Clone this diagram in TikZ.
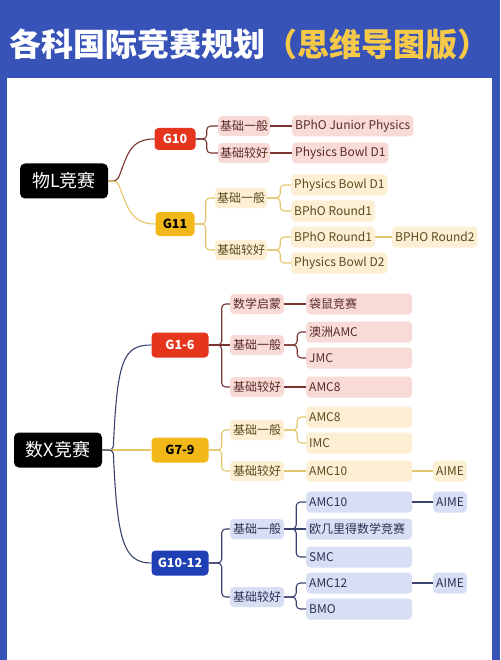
\documentclass[tikz,border=0pt]{standalone}
\usepackage{fontspec}
\setmainfont{Noto Sans CJK SC}
\newfontfamily\cjk{Noto Sans CJK SC}

\definecolor{bgblue}{HTML}{3753B8}
\definecolor{titleyellow}{HTML}{F7C948}
\definecolor{gred}{HTML}{E5351D}
\definecolor{gyellow}{HTML}{F2B81A}
\definecolor{gblue}{HTML}{1F3FB4}
\definecolor{pinkbox}{HTML}{F8DAD6}
\definecolor{yellowbox}{HTML}{FCEFD3}
\definecolor{bluebox}{HTML}{D8DFF5}
\definecolor{redtext}{HTML}{5B2B28}
\definecolor{yellowtext}{HTML}{5C4A1E}
\definecolor{bluetext}{HTML}{2B3152}
\definecolor{redline}{HTML}{7A3530}
\definecolor{yellowline}{HTML}{E3C56A}
\definecolor{blueline}{HTML}{3A4370}

\tikzset{
  rootbox/.style={fill=black, text=white, rounded corners=5pt, minimum width=88pt,
    minimum height=35pt, inner sep=2pt, font=\cjk\fontsize{18}{18}\selectfont},
  gradebox/.style={rounded corners=4pt, minimum height=24pt, inner sep=2pt,
    font=\cjk\bfseries\fontsize{12.5}{12.5}\selectfont},
  catbox/.style={rounded corners=4pt, minimum width=52pt, minimum height=20pt,
    inner sep=2pt, font=\cjk\fontsize{12}{12}\selectfont},
  leafbox/.style={anchor=west, rounded corners=4pt, minimum height=21pt,
    inner xsep=3pt, inner ysep=2pt, font=\cjk\fontsize{12}{12}\selectfont},
  wideleaf/.style={leafbox, text width=100pt, align=left},
  pinkish/.style={fill=pinkbox, text=redtext},
  yellowish/.style={fill=yellowbox, text=yellowtext},
  blueish/.style={fill=bluebox, text=bluetext},
  redlink/.style={draw=redline, line width=1.1pt, rounded corners=4pt},
  yellowlink/.style={draw=yellowline, line width=1.1pt, rounded corners=4pt},
  bluelink/.style={draw=blueline, line width=1.1pt, rounded corners=4pt}
}

\begin{document}
\begin{tikzpicture}[x=1pt,y=-1pt]
  \fill[bgblue] (0,0) rectangle (500,660);
  \fill[white] (7,78) rectangle (492,660);
  \useasboundingbox (0,0) rectangle (500,660);

  \node[anchor=west, inner sep=0, text=white, font=\cjk\bfseries\fontsize{32}{32}\selectfont]
    (title) at (9,44) {各科国际竞赛规划\textcolor{titleyellow}{（思维导图版）}};

  % physics
  \node[rootbox] (phys) at (64,181) {物L竞赛};
  \node[gradebox, fill=gred, text=white, minimum width=41pt, minimum height=22pt] (g10) at (175,139) {G10};
  \node[gradebox, fill=gyellow, text=black, minimum width=39pt] (g11) at (175,224) {G11};

  \node[catbox, pinkish] (pa) at (244,126) {基础一般};
  \node[catbox, pinkish] (pb) at (244,153) {基础较好};
  \node[leafbox, pinkish] (pa1) at (292,126) {BPhO Junior Physics};
  \node[leafbox, pinkish] (pb1) at (292,153) {Physics Bowl D1};

  \node[catbox, yellowish] (qa) at (241,198) {基础一般};
  \node[catbox, yellowish] (qb) at (241,250) {基础较好};
  \node[leafbox, yellowish] (qa1) at (291,185) {Physics Bowl D1};
  \node[leafbox, yellowish] (qa2) at (291,211) {BPhO Round1};
  \node[leafbox, yellowish] (qb1) at (291,237) {BPhO Round1};
  \node[leafbox, yellowish] (qb2) at (392,237) {BPHO Round2};
  \node[leafbox, yellowish] (qb3) at (291,263) {Physics Bowl D2};

  \draw[redlink] (phys.east) -- ++(9,0) .. controls +(10,-25) and +(-25,0) .. (g10.west);
  \draw[yellowlink] (phys.east) -- ++(9,0) .. controls +(10,25) and +(-25,0) .. (g11.west);
  \draw[redlink] (g10.east) -- ++(11,0) |- (pa.west);
  \draw[redlink] (g10.east) -- ++(11,0) |- (pb.west);
  \draw[redlink] (pa.east) -- (pa1.west);
  \draw[redlink] (pb.east) -- (pb1.west);
  \draw[yellowlink] (g11.east) -- ++(11,0) |- (qa.west);
  \draw[yellowlink] (g11.east) -- ++(11,0) |- (qb.west);
  \draw[yellowlink] (qa.east) -- ++(13,0) |- (qa1.west);
  \draw[yellowlink] (qa.east) -- ++(13,0) |- (qa2.west);
  \draw[yellowlink] (qb.east) -- ++(13,0) |- (qb1.west);
  \draw[yellowlink] (qb.east) -- ++(13,0) |- (qb3.west);
  \draw[yellowlink] (qb1.east) -- (qb2.west);

  % maths
  \node[rootbox] (math) at (58,450) {数X竞赛};
  \node[gradebox, fill=gred, text=white, minimum width=57pt, minimum height=25pt] (m16) at (180,345) {G1-6};
  \node[gradebox, fill=gyellow, text=black, minimum width=57pt, minimum height=25pt] (m79) at (180,450) {G7-9};
  \node[gradebox, fill=gblue, text=white, minimum width=57pt, minimum height=25pt] (m1012) at (180,563) {G10-12};

  \node[catbox, pinkish, minimum width=54pt] (ma) at (257,304) {数学启蒙};
  \node[catbox, pinkish, minimum width=54pt] (mb) at (257,345) {基础一般};
  \node[catbox, pinkish, minimum width=54pt] (mc) at (257,387) {基础较好};
  \node[wideleaf, pinkish] (ma1) at (306,304) {袋鼠竞赛};
  \node[wideleaf, pinkish] (mb1) at (306,332) {澳洲AMC};
  \node[wideleaf, pinkish] (mb2) at (306,358) {JMC};
  \node[wideleaf, pinkish] (mc1) at (306,387) {AMC8};

  \node[catbox, yellowish, minimum width=54pt] (na) at (257,430) {基础一般};
  \node[catbox, yellowish, minimum width=54pt] (nb) at (257,471) {基础较好};
  \node[wideleaf, yellowish] (na1) at (306,417) {AMC8};
  \node[wideleaf, yellowish] (na2) at (306,443) {IMC};
  \node[wideleaf, yellowish] (nb1) at (306,471) {AMC10};
  \node[leafbox, yellowish] (nb2) at (433,471) {AIME};

  \node[catbox, blueish, minimum width=54pt] (ka) at (257,529) {基础一般};
  \node[catbox, blueish, minimum width=54pt] (kb) at (257,597) {基础较好};
  \node[wideleaf, blueish] (ka1) at (306,502) {AMC10};
  \node[leafbox, blueish] (ka2) at (433,502) {AIME};
  \node[wideleaf, blueish] (ka3) at (306,529) {欧几里得数学竞赛};
  \node[wideleaf, blueish] (ka4) at (306,557) {SMC};
  \node[wideleaf, blueish] (kb1) at (306,583) {AMC12};
  \node[leafbox, blueish] (kb2) at (433,583) {AIME};
  \node[wideleaf, blueish] (kb3) at (306,609) {BMO};

  \draw[bluelink] (math.east) -- ++(11,0) .. controls +(4,-90) and +(-28,0) .. (m16.west);
  \draw[yellowlink] (math.east) -- (m79.west);
  \draw[bluelink] (math.east) -- ++(11,0) .. controls +(4,90) and +(-28,0) .. (m1012.west);

  \draw[redlink] (m16.east) -- ++(13,0) |- (ma.west);
  \draw[redlink] (m16.east) -- (mb.west);
  \draw[redlink] (m16.east) -- ++(13,0) |- (mc.west);
  \draw[redlink] (ma.east) -- (ma1.west);
  \draw[redlink] (mb.east) -- ++(13,0) |- (mb1.west);
  \draw[redlink] (mb.east) -- ++(13,0) |- (mb2.west);
  \draw[redlink] (mc.east) -- (mc1.west);

  \draw[yellowlink] (m79.east) -- ++(13,0) |- (na.west);
  \draw[yellowlink] (m79.east) -- ++(13,0) |- (nb.west);
  \draw[yellowlink] (na.east) -- ++(13,0) |- (na1.west);
  \draw[yellowlink] (na.east) -- ++(13,0) |- (na2.west);
  \draw[yellowlink] (nb.east) -- (nb1.west);
  \draw[yellowlink] (nb1.east) -- (nb2.west);

  \draw[bluelink] (m1012.east) -- ++(13,0) |- (ka.west);
  \draw[bluelink] (m1012.east) -- ++(13,0) |- (kb.west);
  \draw[bluelink] (ka.east) -- ++(12,0) |- (ka1.west);
  \draw[bluelink] (ka.east) -- (ka3.west);
  \draw[bluelink] (ka.east) -- ++(12,0) |- (ka4.west);
  \draw[bluelink] (kb.east) -- ++(12,0) |- (kb1.west);
  \draw[bluelink] (kb.east) -- ++(12,0) |- (kb3.west);
  \draw[bluelink] (ka1.east) -- (ka2.west);
  \draw[bluelink] (kb1.east) -- (kb2.west);
\end{tikzpicture}
\end{document}
